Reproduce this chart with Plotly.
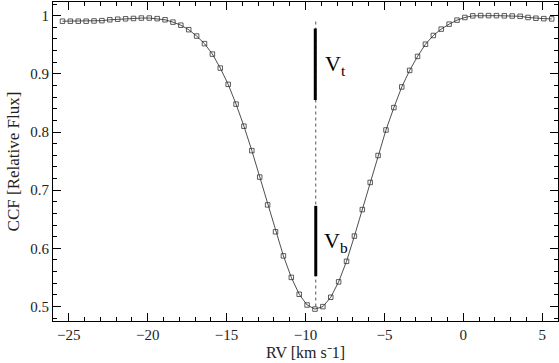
import plotly.graph_objects as go

# CCF samples (RV grid step 0.5 km/s)
rv = [-25.4 + 0.5 * i for i in range(63)]
ccf = [0.9906, 0.9906, 0.9906, 0.9906, 0.9910, 0.9915, 0.9930, 0.9940, 0.9947, 0.9953,
       0.9960, 0.9960, 0.9950, 0.9930, 0.9890, 0.9837, 0.9760, 0.9650, 0.9520, 0.9340,
       0.9100, 0.8820, 0.8480, 0.8100, 0.7680, 0.7225, 0.6747, 0.6284, 0.5870, 0.5500,
       0.5210, 0.5025, 0.4955, 0.4997, 0.5158, 0.5423, 0.5776, 0.6210, 0.6666, 0.7133,
       0.7596, 0.8035, 0.8420, 0.8775, 0.9060, 0.9300, 0.9510, 0.9660, 0.9770, 0.9855,
       0.9924, 0.9970, 0.9998, 1.0003, 1.0002, 1.0001, 0.9998, 0.9995, 0.9990, 0.9970,
       0.9957, 0.9950, 0.9945]

# bisector line and the two velocity spans
bis_x = [-9.35, -9.35]
bis_y = [0.990, 0.497]
vt_x = [-9.38, -9.38]
vt_y = [0.978, 0.855]
vb_x = [-9.35, -9.35]
vb_y = [0.673, 0.552]

xticks = [-25, -20, -15, -10, -5, 0, 5]
xtick_text = ["\u221225", "\u221220", "\u221215", "\u221210", "\u22125", "0", "5"]
yticks = [0.5, 0.6, 0.7, 0.8, 0.9, 1]
ytick_text = ["0.5", "0.6", "0.7", "0.8", "0.9", "1"]

font = "Liberation Serif"

fig = go.Figure()
fig.add_trace(go.Scatter(x=bis_x, y=bis_y, mode="lines",
                         line=dict(color="#555", width=1, dash="dot"), hoverinfo="skip"))
fig.add_trace(go.Scatter(x=rv, y=ccf, mode="lines+markers",
                         line=dict(color="#222", width=0.8),
                         marker=dict(symbol="square-open", size=4.5, color="#333",
                                     line=dict(width=0.8))))
fig.add_trace(go.Scatter(x=vt_x, y=vt_y, mode="lines", line=dict(color="black", width=3)))
fig.add_trace(go.Scatter(x=vb_x, y=vb_y, mode="lines", line=dict(color="black", width=3)))

fig.add_annotation(x=-8.92, y=0.916, text="V<sub>t</sub>", showarrow=False,
                   xanchor="left", font=dict(family=font, size=22, color="black"))
fig.add_annotation(x=-8.98, y=0.611, text="V<sub>b</sub>", showarrow=False,
                   xanchor="left", font=dict(family=font, size=22, color="black"))

# x axis title as a paper annotation so it sits just under the tick labels
fig.add_annotation(x=0.5, y=0, xref="paper", yref="paper", yanchor="middle",
                   yshift=-31, showarrow=False, text="RV [km s\u207b1]",
                   font=dict(family=font, size=16, color="#222"))

axis_common = dict(showgrid=False, zeroline=False, showline=True, linecolor="black",
                   linewidth=1, mirror="allticks", ticks="inside", ticklen=8,
                   tickcolor="black", tickwidth=1,
                   tickfont=dict(family=font, size=15, color="#222"))

fig.update_xaxes(range=[-26, 6], tickvals=xticks, ticktext=xtick_text,
                 ticklabelstandoff=0,
                 minor=dict(dtick=1, ticks="inside", ticklen=4, tickcolor="black"),
                 **axis_common)
fig.update_yaxes(range=[0.475, 1.0236], tickvals=yticks, ticktext=ytick_text,
                 minor=dict(dtick=0.02, ticks="inside", ticklen=4, tickcolor="black"),
                 title=dict(text="CCF [Relative Flux]", standoff=6,
                            font=dict(family=font, size=17, color="#222")),
                 **axis_common)

fig.update_layout(width=559, height=363, showlegend=False,
                  plot_bgcolor="white", paper_bgcolor="white",
                  margin=dict(l=53, r=1, t=2, b=42))

# page body has a default 8px margin; drop it so the figure sits at the corner
fig.write_html("out.html", config={"displayModeBar": False},
               post_script="document.body.style.margin='0';")
